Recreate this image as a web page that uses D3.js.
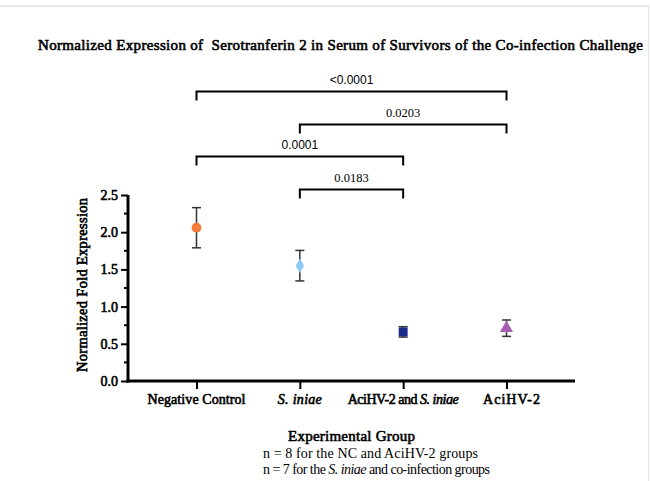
<!DOCTYPE html>
<html>
<head>
<meta charset="utf-8">
<script src="https://cdn.jsdelivr.net/npm/d3@7"></script>
<style>
body { margin: 0; background: #fff; }
svg { display: block; }
.serif { font-family: 'Liberation Serif', 'Times New Roman', serif; }
.bold { font-weight: normal; stroke: #000; stroke-width: 0.6px; fill: #000; }
</style>
</head>
<body>
<div id="chart"></div>
<script>
(function() {
"use strict"

var width = 650, height = 481;

// groups on the x axis
var groups = ["Negative Control", "S. iniae", "AciHV-2 and S. iniae", "AciHV-2"];
var groupLabelWidths = [98, 44, 111, 57];
var means = [2.06, 1.55, 0.66, 0.71];
var errs = [0.27, 0.205, 0.07, 0.11];
var colors = ["#f47b3b", "#8ec8f6", "#1c2a8a", "#a55db0"];
var shapes = [d3.symbolCircle, d3.symbolDiamond, d3.symbolSquare, d3.symbolTriangle];
var shapeSizes = [75, 60, 80, 75];
var yTicks = [0, 0.5, 1.0, 1.5, 2.0, 2.5];

// significance brackets: from group, to group, label, font
var brackets = [
    {a: 0, b: 3, label: "<0.0001", sans: true},
    {a: 1, b: 3, label: "0.0203", sans: false},
    {a: 0, b: 2, label: "0.0001", sans: true},
    {a: 1, b: 2, label: "0.0183", sans: false}
];
var bracketY = [91.5, 124.5, 156.5, 189.5]; // layout rows

var svg = d3.select("#chart").append("svg")
    .attr("width", width)
    .attr("height", height);

// faint frame lines of the original image
svg.append("line").attr("x1", 0).attr("x2", 649).attr("y1", 6).attr("y2", 6)
    .style("stroke", "#d0d0d0");
svg.append("line").attr("x1", 648.5).attr("x2", 648.5).attr("y1", 6).attr("y2", 481)
    .style("stroke", "#e4e4e4");

var sans = "'Liberation Sans', Arial, sans-serif";

var x = d3.scalePoint()
    .domain(groups)
    .range([196.5, 506.5]);

var y = d3.scaleLinear()
    .domain([0, 2.5])
    .range([381, 195]);

// title
svg.append("text")
    .attr("class", "serif bold")
    .attr("x", 340.5).attr("y", 50)
    .attr("text-anchor", "middle")
    .attr("textLength", 605).attr("lengthAdjust", "spacing")
    .style("font-size", "15px")
    .attr("xml:space", "preserve")
    .text("Normalized Expression of  Serotranferin 2 in Serum of Survivors of the Co-infection Challenge");

// y axis
var yAxis = svg.append("g")
    .attr("transform", "translate(128,0)")
    .call(d3.axisLeft(y).tickValues(yTicks).tickFormat(d3.format(".1f")).tickSize(7).tickSizeOuter(0));
// minor ticks
yAxis.selectAll(".minor").data(d3.range(0.25, 2.5, 0.5)).enter().append("line")
    .attr("class", "minor")
    .attr("x1", -4).attr("x2", 0)
    .attr("y1", function(d) { return y(d); }).attr("y2", function(d) { return y(d); })
    .style("stroke", "#000").style("stroke-width", 2);
yAxis.select(".domain").style("stroke-width", 3).attr("d", "M0," + y(2.5) + "V" + (y(0) + 1.5));
yAxis.selectAll(".tick line").style("stroke-width", 2);
yAxis.selectAll(".tick text")
    .attr("class", "serif bold")
    .attr("x", -10)
    .style("font-size", "14px");

svg.append("text")
    .attr("class", "serif bold")
    .attr("transform", "translate(87,285) rotate(-90)")
    .attr("text-anchor", "middle")
    .attr("textLength", 174).attr("lengthAdjust", "spacing")
    .style("font-size", "14.5px")
    .text("Normalized Fold Expression");

// x axis
svg.append("line")
    .attr("x1", 126.5).attr("x2", 575)
    .attr("y1", 381).attr("y2", 381)
    .style("stroke", "#000").style("stroke-width", 3);
var xAxis = svg.append("g")
    .attr("transform", "translate(0,381)")
    .call(d3.axisBottom(x).tickSize(8).tickSizeOuter(0).tickFormat(""));
xAxis.select(".domain").remove();
xAxis.selectAll(".tick line").style("stroke-width", 2);

// category labels with italic species names
var catLabels = svg.append("g");
groups.forEach(function(g, k) {
    var t = catLabels.append("text")
        .attr("class", "serif bold")
        .attr("x", x(g) + (k === 3 ? 5 : 0)).attr("y", 404)
        .attr("text-anchor", "middle")
        .attr("textLength", groupLabelWidths[k]).attr("lengthAdjust", "spacing")
        .style("font-size", "14px");
    var parts = g.split("S. iniae");
    parts.forEach(function(p, i) {
        if (p) t.append("tspan").text(p);
        if (i < parts.length - 1) t.append("tspan").style("font-style", "italic").text("S. iniae");
    });
});

svg.append("text")
    .attr("class", "serif bold")
    .attr("x", 351.5).attr("y", 441)
    .attr("text-anchor", "middle")
    .attr("textLength", 127).attr("lengthAdjust", "spacing")
    .style("font-size", "15px")
    .text("Experimental Group");
svg.append("text")
    .attr("class", "serif")
    .attr("x", 370.5).attr("y", 458)
    .attr("text-anchor", "middle")
    .attr("textLength", 215).attr("lengthAdjust", "spacing")
    .style("font-size", "14px")
    .text("n = 8 for the NC and AciHV-2 groups");
var n7 = svg.append("text")
    .attr("class", "serif")
    .attr("x", 376.5).attr("y", 474)
    .attr("text-anchor", "middle")
    .attr("textLength", 227).attr("lengthAdjust", "spacing")
    .style("font-size", "14px");
n7.append("tspan").text("n = 7 for the ");
n7.append("tspan").style("font-style", "italic").text("S. iniae");
n7.append("tspan").text(" and co-infection groups");

// error bars
var eb = svg.append("g").selectAll("g").data(groups).enter().append("g");
eb.append("line")
    .attr("x1", function(d) { return x(d); }).attr("x2", function(d) { return x(d); })
    .attr("y1", function(d, i) { return y(means[i] + errs[i]); })
    .attr("y2", function(d, i) { return y(means[i] - errs[i]); })
    .style("stroke", "#333").style("stroke-width", 1.5);
[1, -1].forEach(function(s) {
    eb.append("line")
        .attr("x1", function(d) { return x(d) - 4.5; }).attr("x2", function(d) { return x(d) + 4.5; })
        .attr("y1", function(d, i) { return y(means[i] + s * errs[i]); })
        .attr("y2", function(d, i) { return y(means[i] + s * errs[i]); })
        .style("stroke", "#333").style("stroke-width", 1.5);
});

// markers
svg.append("g").selectAll("path").data(groups).enter().append("path")
    .attr("transform", function(d, i) { return "translate(" + x(d) + "," + y(means[i]) + ")"; })
    .attr("d", function(d, i) { return d3.symbol().type(shapes[i]).size(shapeSizes[i])(); })
    .style("fill", function(d, i) { return colors[i]; });

// significance brackets
var br = svg.append("g").selectAll("g").data(brackets).enter().append("g");
br.append("path")
    .attr("d", function(d, i) {
        var x1 = x(groups[d.a]), x2 = x(groups[d.b]), yy = bracketY[i];
        return "M" + x1 + "," + (yy + 9) + "V" + yy + "H" + x2 + "V" + (yy + 9);
    })
    .style("fill", "none").style("stroke", "#000").style("stroke-width", 2);
br.append("text")
    .attr("class", function(d) { return d.sans ? null : "serif"; })
    .attr("x", function(d) { return (x(groups[d.a]) + x(groups[d.b])) / 2; })
    .attr("y", function(d, i) { return bracketY[i] - 8; })
    .attr("text-anchor", "middle")
    .style("font-family", function(d) { return d.sans ? sans : null; })
    .style("font-size", function(d) { return d.sans ? "12px" : "12.5px"; })
    .text(function(d) { return d.label; });

})();
</script>
</body>
</html>
